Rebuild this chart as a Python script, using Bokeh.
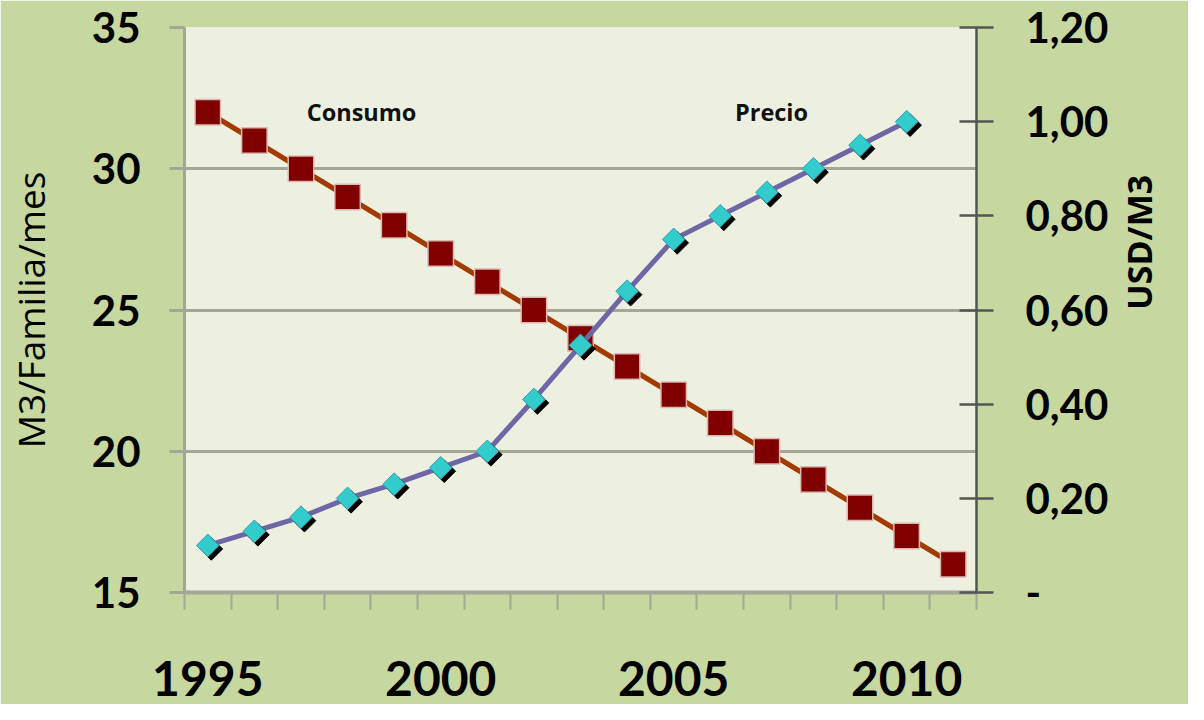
import math
from bokeh.plotting import figure
from bokeh.models import Range1d, LinearAxis, FixedTicker, CustomJSTickFormatter
from bokeh.core.properties import value
from bokeh.embed import file_html
from bokeh.resources import INLINE

# ---- data ----
years = list(range(1995, 2012))
consumo = [32, 31, 30, 29, 28, 27, 26, 25, 24, 23, 22, 21, 20, 19, 18, 17, 16]
precio_years = list(range(1995, 2011))
precio = [0.10, 0.13, 0.16, 0.20, 0.23, 0.265, 0.30, 0.41, 0.525, 0.64,
          0.75, 0.80, 0.85, 0.90, 0.95, 1.00]
x_label_years = [1995, 2000, 2005, 2010]
left_ticks = [15, 20, 25, 30, 35]
grid_ticks = [20, 25, 30, 35]
right_ticks = [0, 0.2, 0.4, 0.6, 0.8, 1.0, 1.2]
series_names = ["Consumo", "Precio"]
series_label_x = [1998.3, 2007.1]
series_label_y = [32.0, 32.0]

# ---- layout ----
W, H = 1188, 704
ML, MT, MR, MB = 184, 27, 211, 112
FRAME_W = W - ML - MR
FRAME_H = H - MT - MB
X0, X1 = years[0] - 0.5, years[-1] + 0.5
R0, R1 = 0.0, 1.2

FONT = "Open Sans"
NUM_FONT = "Lato"
GRAY = "#a4a698"

p = figure(width=W, height=H, x_range=Range1d(X0, X1), y_range=Range1d(15, 35),
           output_backend="svg", toolbar_location=None,
           min_border_left=ML, min_border_right=MR, min_border_top=MT, min_border_bottom=MB,
           background_fill_color="#edf0e1", border_fill_color="#c6d79f",
           outline_line_color=None)
p.extra_y_ranges = {"precio": Range1d(R0, R1)}

# x axis
xa = p.xaxis[0]
xa.ticker = FixedTicker(ticks=x_label_years, minor_ticks=[X0 + i for i in range(len(years) + 1)])
xa.major_tick_line_color = None
xa.major_tick_out = 0
xa.major_tick_in = 0
xa.minor_tick_out = 17
xa.minor_tick_in = 0
xa.minor_tick_line_color = GRAY
xa.minor_tick_line_width = 2
xa.axis_line_color = GRAY
xa.axis_line_width = 4
xa.major_label_text_font = NUM_FONT
xa.major_label_text_font_size = "48px"
xa.major_label_text_font_style = "bold"
xa.major_label_text_color = "#000000"
xa.major_label_standoff = 51

# left axis
ya = p.yaxis[0]
ya.ticker = FixedTicker(ticks=left_ticks, minor_ticks=[])
ya.major_tick_out = 15
ya.major_tick_in = 0
ya.major_tick_line_color = GRAY
ya.major_tick_line_width = 3
ya.minor_tick_line_color = None
ya.axis_line_color = GRAY
ya.axis_line_width = 3
ya.major_label_text_font = NUM_FONT
ya.major_label_text_font_size = "42px"
ya.major_label_text_font_style = "bold"
ya.major_label_text_color = "#000000"
ya.major_label_standoff = 29
ya.axis_label = "M3/Familia/mes"
ya.axis_label_text_font = FONT
ya.axis_label_text_font_size = "37px"
ya.axis_label_text_font_style = "normal"
ya.axis_label_text_color = "#000000"
ya.axis_label_standoff = 33

# right axis
ra = LinearAxis(y_range_name="precio",
                ticker=FixedTicker(ticks=right_ticks, minor_ticks=[]),
                formatter=CustomJSTickFormatter(
                    code="return tick < 0.001 ? '-' : tick.toFixed(2).replace('.', ',');"))
ra.major_tick_out = 17
ra.major_tick_in = 17
ra.major_tick_line_color = "#555555"
ra.major_tick_line_width = 2.5
ra.minor_tick_line_color = None
ra.axis_line_color = "#555555"
ra.axis_line_width = 2.5
ra.major_label_text_font = NUM_FONT
ra.major_label_text_font_size = "42px"
ra.major_label_text_font_style = "bold"
ra.major_label_text_color = "#000000"
ra.major_label_standoff = 32
ra.axis_label = "USD/M3"
ra.axis_label_orientation = math.pi / 2
ra.axis_label_text_font = FONT
ra.axis_label_text_font_size = "34px"
ra.axis_label_text_font_style = "bold"
ra.axis_label_text_color = "#000000"
ra.axis_label_standoff = 28
p.add_layout(ra, "right")

# grid
p.xgrid.grid_line_color = None
p.ygrid.ticker = FixedTicker(ticks=grid_ticks, minor_ticks=[])
p.ygrid.grid_line_color = GRAY
p.ygrid.grid_line_width = 3

# Consumo series
p.line(years, consumo, line_color="#a33b00", line_width=5)
p.scatter(years, consumo, marker="square", size=25.5, fill_color="#800000",
          line_color="#dcb8b0", line_width=1.5)

# Precio series
dx = 3.5 * (X1 - X0) / FRAME_W
dy = 3.5 * (R1 - R0) / FRAME_H
p.line(precio_years, precio, y_range_name="precio", line_color="#6d68a5", line_width=5)
p.scatter([x + dx for x in precio_years], [v - dy for v in precio], y_range_name="precio",
          marker="square", size=16, angle=math.pi / 4, fill_color="#000000", line_color="#000000")
p.scatter(precio_years, precio, y_range_name="precio", marker="square", size=16,
          angle=math.pi / 4, fill_color="#33cccc", line_color="#3a9fb0", line_width=1)

# series labels
p.text(x=series_label_x, y=series_label_y, text=series_names, text_font=value(FONT),
       text_font_style="bold", text_font_size="23.5px", text_align="center",
       text_baseline="middle", text_color="#111111")

open("out.html", "w").write(file_html(p, INLINE))
